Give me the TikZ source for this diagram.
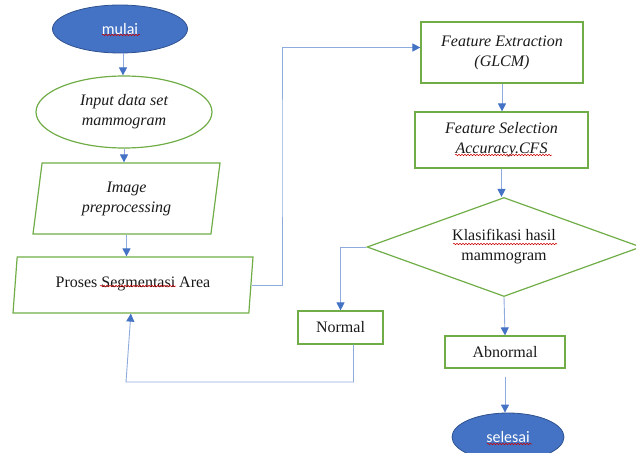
\documentclass[tikz,border=0pt]{standalone}
\usepackage{fontspec}
\setmainfont{Liberation Serif}
\newfontfamily\calibri{Carlito}
\usetikzlibrary{shapes.geometric, arrows.meta, calc, decorations.pathmorphing}
\definecolor{boxgreen}{HTML}{70AD47}
\definecolor{termblue}{HTML}{4472C4}
\definecolor{termedge}{HTML}{2F528F}
\definecolor{linkblue}{HTML}{8FAADC}
\definecolor{tipblue}{HTML}{4472C4}

\begin{document}
\begin{tikzpicture}[x=1pt, y=-1pt,
  txt/.style={font=\fontsize{16}{20}\selectfont, text=black!90, align=center, inner sep=0pt},
  ittxt/.style={txt, font=\fontsize{16}{20}\selectfont\itshape},
  term/.style={ellipse, draw=termedge, fill=termblue, line width=0.8pt, text=white,
    font=\calibri\fontsize{16}{19}\selectfont, inner sep=0pt},
  inbox/.style={ellipse, draw=boxgreen, line width=1.2pt},
  iobox/.style={trapezium, trapezium left angle=75, trapezium right angle=105,
    trapezium stretches body, draw=boxgreen, line width=1.2pt},
  procbox/.style={rectangle, draw=boxgreen, line width=1.2pt},
  decbox/.style={diamond, aspect=2.77, draw=boxgreen, line width=1.2pt},
  link/.style={draw=linkblue, line width=0.9pt, -{Triangle[length=8pt, width=8pt, color=tipblue]}},
  spell/.style={draw=red!80!black, line width=0.5pt, decorate,
    decoration={snake, amplitude=0.8pt, segment length=3pt}}]
  \useasboundingbox (0,0) rectangle (636,452);
  \clip (0,0) rectangle (636,452);

  % left column
  \node[term, minimum width=135pt, minimum height=48pt] (mulai) at (120,29) {mulai};
  \node[inbox, ittxt, minimum width=176pt, minimum height=72pt] (input) at (124,112)
    {Input data set\\mammogram};
  \node[iobox, ittxt, minimum width=187pt, minimum height=71pt] (image) at (126.5,198.5)
    {Image\\preprocessing};
  \node[iobox, txt, minimum width=240pt, minimum height=56pt] (proses) at (133,285)
    {\raisebox{5pt}{Proses Segmentasi Area}};

  % right column
  \node[procbox, ittxt, minimum width=162pt, minimum height=61pt] (featext) at (502,52.5)
    {Feature Extraction\\(GLCM)};
  \node[procbox, ittxt, minimum width=173pt, minimum height=56pt] (featsel) at (501.5,140)
    {Feature Selection\\Accuracy.CFS};
  \node[decbox, txt, minimum width=274pt, minimum height=99pt] (klas) at (504,247)
    {Klasifikasi hasil\\mammogram};
  \node[procbox, txt, minimum width=85pt, minimum height=33pt] (normal) at (340.5,327.5) {Normal};
  \node[procbox, txt, minimum width=120pt, minimum height=32pt] (abnormal) at (505,352) {Abnormal};
  \node[term, minimum width=112pt, minimum height=48pt] (selesai) at (508,437) {selesai};

  \coordinate (up) at (282,150);
  \coordinate (back) at (126,382);

  \draw[link] ([xshift=3pt]mulai.south) -- ([xshift=3pt]mulai.south |- input.north);
  \draw[link] (input.south) -- (input.south |- image.north);
  \draw[link] (image.south) -- (image.south |- proses.north);
  \draw[link] (proses.east) -| (up) |- ([yshift=5pt]featext.west);
  \draw[link] (featext) -- (featext |- featsel.north);
  \draw[link] (featsel.south) -- (featsel.south |- klas.north);
  \draw[link] (klas.west) -| (normal.north);
  \draw[link] (klas.south) -- (abnormal.north);
  \draw[link, shorten <=8pt] (abnormal.south) -- (abnormal.south |- selesai.north);
  \draw[link] ([xshift=13pt]normal.south) |- (back)
    -- ($(proses.bottom left corner)!.5!(proses.bottom right corner)$);

  % spell-check marks
  \foreach \xa/\xb/\yy in {102/140/35, 100/176/286, 455/552/155, 453/557/244, 487/532/444}
    \draw[spell] (\xa,\yy) -- (\xb,\yy);
\end{tikzpicture}
\end{document}
